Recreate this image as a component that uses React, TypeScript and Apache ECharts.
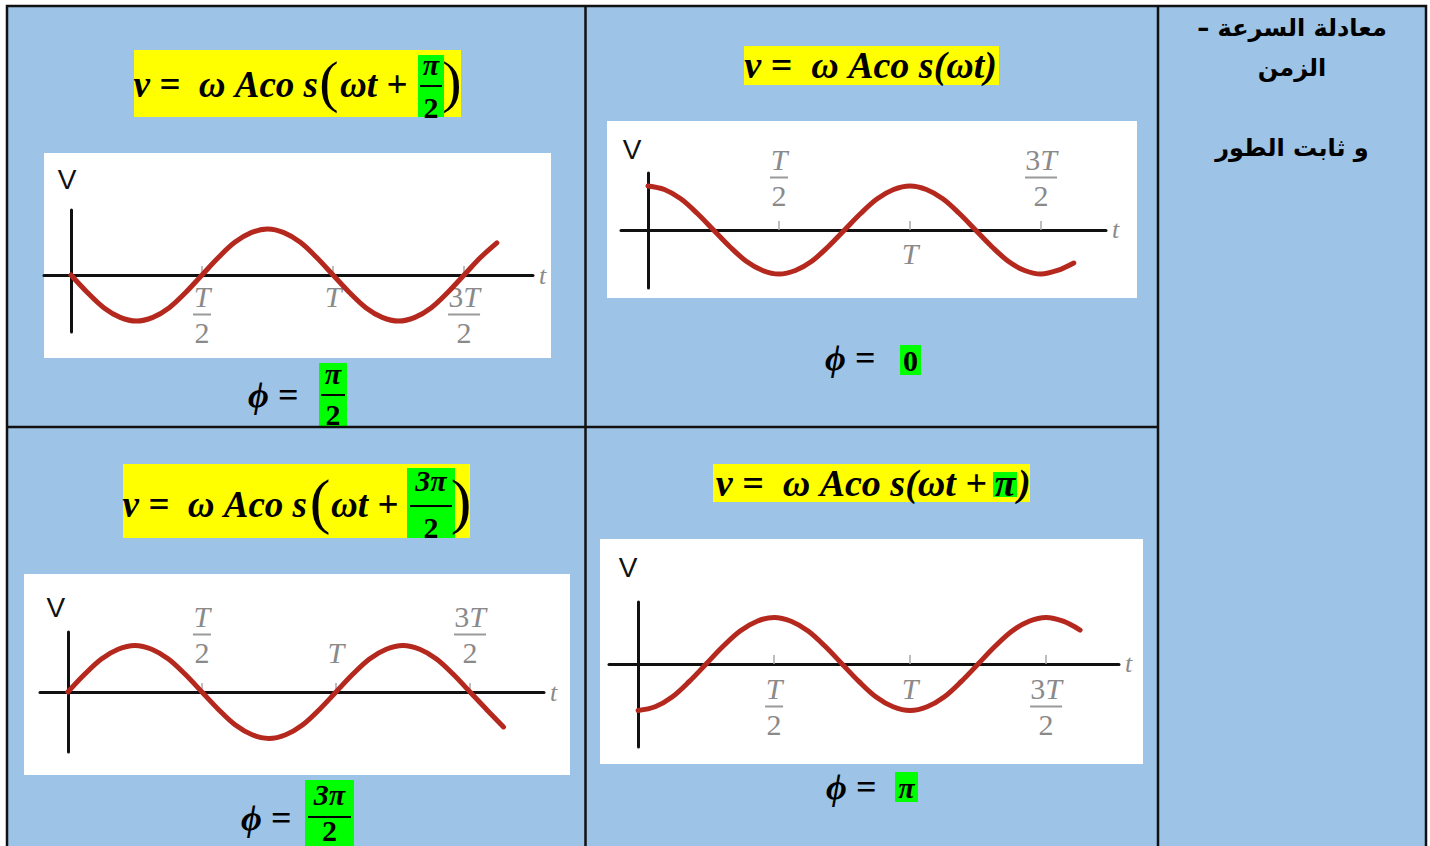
import React, { useEffect, useRef } from 'react';
import * as echarts from 'echarts';

// ---- data ----
// time in units of the period T, sampled every T/16
const tPoints = [
  0, 0.0625, 0.125, 0.1875, 0.25, 0.3125, 0.375, 0.4375, 0.5, 0.5625, 0.625, 0.6875, 0.75, 0.8125,
  0.875, 0.9375, 1, 1.0625, 1.125, 1.1875, 1.25, 1.3125, 1.375, 1.4375, 1.5, 1.5625, 1.625,
];
// velocity in units of ωA
const vPhiHalfPi = [0, -0.38, -0.71, -0.92, -1, -0.92, -0.71, -0.38, 0, 0.38, 0.71, 0.92, 1, 0.92, 0.71, 0.38, 0, -0.38, -0.71, -0.92, -1, -0.92, -0.71, -0.38, 0, 0.38, 0.7];
const vPhiZero = [1, 0.92, 0.71, 0.38, 0, -0.38, -0.71, -0.92, -1, -0.92, -0.71, -0.38, 0, 0.38, 0.71, 0.92, 1, 0.92, 0.71, 0.38, 0, -0.38, -0.71, -0.92, -1, -0.92, -0.75];
const vPhiThreeHalfPi = [0, 0.38, 0.71, 0.92, 1, 0.92, 0.71, 0.38, 0, -0.38, -0.71, -0.92, -1, -0.92, -0.71, -0.38, 0, 0.38, 0.71, 0.92, 1, 0.92, 0.71, 0.38, 0, -0.38, -0.75];
const vPhiPi = [-1, -0.92, -0.71, -0.38, 0, 0.38, 0.71, 0.92, 1, 0.92, 0.71, 0.38, 0, -0.38, -0.71, -0.92, -1, -0.92, -0.71, -0.38, 0, 0.38, 0.71, 0.92, 1, 0.92, 0.73];

const tickValues = [0.5, 1, 1.5];
const tickLabels = ['T/2', 'T', '3T/2'];
const axisNameV = 'V';
const axisNameT = 't';
const arabicLines = ['معادلة السرعة –\u200F', 'الزمن', 'و ثابت الطور'];

const SERIF = '"Liberation Serif", "DejaVu Serif", serif';
const SANS = '"Liberation Sans", Arial, sans-serif';
const BLUE = '#9DC3E6';
const YELLOW = '#FFFF00';
const GREEN = '#00FF00';
const RED = '#B5281E';
const GRAY = '#8a8a8a';
const INK = '#111111';
const EQ = 37;

const panels = [
  { values: vPhiHalfPi, grid: { left: 44, top: 210, width: 489, height: 122 }, x: [-0.103, 1.763], y: [-1.239, 1.413], below: [0.5, 1, 1.5], above: [] as number[], belowMargin: 8, aboveMargin: 22, vShift: 4, vGap: 17 },
  { values: vPhiZero, grid: { left: 621, top: 173, width: 485, height: 115 }, x: [-0.103, 1.748], y: [-1.318, 1.295], below: [1], above: [0.5, 1.5], belowMargin: 10, aboveMargin: 21, vShift: 16, vGap: 10 },
  { values: vPhiThreeHalfPi, grid: { left: 40, top: 632, width: 504, height: 120 }, x: [-0.104, 1.776], y: [-1.29, 1.29], below: [] as number[], above: [0.5, 1, 1.5], belowMargin: 10, aboveMargin: 26, vShift: 12, vGap: 11 },
  { values: vPhiPi, grid: { left: 609, top: 602, width: 510, height: 145 }, x: [-0.107, 1.768], y: [-1.785, 1.333], below: [0.5, 1, 1.5], above: [] as number[], belowMargin: 11, aboveMargin: 20, vShift: 10, vGap: 21 },
];

function tickFormatter(val: number) {
  const idx = tickValues.indexOf(Math.round(val * 100) / 100);
  const lab = tickLabels[idx] || '';
  const parts = lab.split('/');
  const three = parts[0].startsWith('3');
  const num = three ? '{d|3}{n|T}' : '{n|T}';
  if (parts.length === 1) return num;
  return num + '\n{' + (three ? 'b3' : 'b1') + '| }\n{d|' + parts[1] + '}';
}

const labelRich = {
  n: { fontFamily: SERIF, fontStyle: 'italic', fontSize: 30, color: GRAY, lineHeight: 27 },
  d: { fontFamily: SERIF, fontSize: 30, color: GRAY, lineHeight: 27 },
  b1: { width: 18, height: 2, backgroundColor: '#9a9a9a', fontSize: 2, lineHeight: 9 },
  b3: { width: 32, height: 2, backgroundColor: '#9a9a9a', fontSize: 2, lineHeight: 9 },
};

function txt(text: string, x: number, y: number, extra: any = {}) {
  return {
    type: 'text',
    z: 20,
    style: {
      text, x, y,
      fill: '#000',
      fontFamily: SERIF,
      fontSize: EQ,
      fontWeight: 'bold',
      fontStyle: 'italic',
      align: 'left',
      verticalAlign: 'middle',
      ...extra,
    },
  };
}
function rect(x: number, y: number, w: number, h: number, fill: string, z = 5) {
  return { type: 'rect', z, shape: { x, y, width: w, height: h }, style: { fill } };
}
function hline(x1: number, x2: number, y: number, w = 2, color = '#000', z = 21) {
  return { type: 'line', z, shape: { x1, y1: y, x2, y2: y }, style: { stroke: color, lineWidth: w } };
}
function vline(x: number, y1: number, y2: number, w = 2.5, color = INK, z = 30) {
  return { type: 'line', z, shape: { x1: x, y1, x2: x, y2 }, style: { stroke: color, lineWidth: w } };
}
const paren = { fontWeight: 'normal', fontStyle: 'normal', align: 'center' };
const frac = { align: 'center', fontSize: 30 };
const PHI = 36;

function buildOption() {
  const grids: any[] = [];
  const xAxes: any[] = [];
  const yAxes: any[] = [];
  const series: any[] = [];

  panels.forEach((p, i) => {
    const g = p.grid;
    grids.push({ ...g, outerBoundsMode: 'none', containLabel: false });
    // pixel row of v = 0; labels are laid out from the grid edges, so shift them onto the zero line
    const zeroY = g.top + (g.height * p.y[1]) / (p.y[1] - p.y[0]);
    const belowMargin = zeroY + p.belowMargin - (g.top + g.height);
    const aboveMargin = g.top - zeroY + p.aboveMargin;
    const common = { type: 'value', gridIndex: i, min: p.x[0], max: p.x[1], splitLine: { show: false }, z: 3 };
    xAxes.push({
      ...common,
      position: 'bottom',
      axisLine: { show: true, onZero: true, lineStyle: { color: INK, width: 3 } },
      axisTick: { show: true, inside: true, length: 9, customValues: tickValues, lineStyle: { color: '#a8a8a8', width: 1.5 } },
      axisLabel: { show: p.below.length > 0, customValues: p.below, margin: belowMargin, formatter: tickFormatter, rich: labelRich, verticalAlign: 'top' },
      name: axisNameT,
      nameLocation: 'end',
      nameGap: 6,
      nameTextStyle: { fontFamily: SERIF, fontStyle: 'italic', fontSize: 26, color: GRAY, verticalAlign: 'middle' },
    });
    xAxes.push({
      ...common,
      position: 'top',
      axisLine: { show: false, onZero: true },
      axisTick: { show: false },
      axisLabel: { show: p.above.length > 0, customValues: p.above, margin: aboveMargin, formatter: tickFormatter, rich: labelRich, verticalAlign: 'bottom' },
    });
    yAxes.push({
      type: 'value',
      gridIndex: i,
      min: p.y[0],
      max: p.y[1],
      z: 3,
      axisLine: { show: true, onZero: true, onZeroAxisIndex: 2 * i, lineStyle: { color: INK, width: 3 } },
      axisTick: { show: false },
      axisLabel: { show: false },
      splitLine: { show: false },
      name: axisNameV,
      nameLocation: 'end',
      nameGap: p.vGap,
      nameTextStyle: { fontFamily: SANS, fontSize: 28, color: INK, align: 'center', verticalAlign: 'bottom', padding: [0, 2 * p.vShift, 0, 0] },
    });
    series.push({
      type: 'line',
      xAxisIndex: 2 * i,
      yAxisIndex: i,
      data: tPoints.map((t, k) => [t, p.values[k]]),
      smooth: 0.35,
      showSymbol: false,
      z: 4,
      lineStyle: { color: RED, width: 5, cap: 'round' },
    });
  });

  const arab = { fontFamily: '"DejaVu Sans", sans-serif', fontStyle: 'normal', fontSize: 24, align: 'center' };

  const elements: any[] = [
    // table background
    rect(7, 6, 1419, 850, BLUE, 0),
    // plot white panels
    rect(44, 153, 507, 205, '#ffffff', 1),
    rect(607, 121, 530, 177, '#ffffff', 1),
    rect(24, 574, 546, 201, '#ffffff', 1),
    rect(600, 539, 543, 225, '#ffffff', 1),

    // equation 1 : phi = pi/2
    rect(134, 50, 327, 67, YELLOW),
    txt('v =  ω Aco s', 318, 84, { align: 'right' }),
    txt('(', 329, 81, { ...paren, fontSize: 58 }),
    txt('ωt +', 340, 84),
    rect(418, 55, 26, 62, GREEN, 6),
    txt('π', 431, 64, frac),
    hline(420, 442, 86),
    txt('2', 431, 107, { ...frac, fontStyle: 'normal' }),
    txt(')', 452, 81, { ...paren, fontSize: 58 }),

    // equation 2 : phi = 0
    rect(744, 46, 255, 39, YELLOW),
    txt('v =  ω Aco s(ωt)', 997, 65, { align: 'right', fontSize: 38 }),

    // equation 3 : phi = 3pi/2
    rect(123, 464, 347, 74, YELLOW),
    txt('v =  ω Aco s', 307, 504, { align: 'right' }),
    txt('(', 320, 501, { ...paren, fontSize: 62 }),
    txt('ωt +', 331, 504),
    rect(407, 468, 48, 70, GREEN, 6),
    txt('3π', 431, 480, frac),
    hline(410, 452, 506),
    txt('2', 431, 527, { ...frac, fontStyle: 'normal' }),
    txt(')', 461, 501, { ...paren, fontSize: 62 }),

    // equation 4 : phi = pi
    rect(713, 464, 317, 38, YELLOW),
    txt('v =  ω Aco s(ωt +', 987, 483, { align: 'right', fontSize: 38 }),
    rect(993, 472, 24, 25, GREEN, 6),
    txt('π', 1005, 483, { align: 'center', fontSize: 38 }),
    txt(')', 1018, 483, { fontSize: 38 }),

    // phase labels
    txt('ϕ =', 248, 395, { fontSize: PHI }),
    rect(319, 363, 28, 64, GREEN, 6),
    txt('π', 333, 373, frac),
    hline(321, 345, 395),
    txt('2', 333, 414, { ...frac, fontStyle: 'normal' }),

    txt('ϕ =', 825, 358, { fontSize: PHI }),
    rect(900, 345, 21, 30, GREEN, 6),
    txt('0', 910.5, 360, { ...frac, fontStyle: 'normal' }),

    txt('ϕ =', 241, 818, { fontSize: PHI }),
    rect(305, 780, 49, 66, GREEN, 6),
    txt('3π', 329.5, 794, frac),
    hline(308, 351, 817),
    txt('2', 329.5, 830, { ...frac, fontStyle: 'normal' }),

    txt('ϕ =', 826, 787, { fontSize: PHI }),
    rect(895, 772, 23, 30, GREEN, 6),
    txt('π', 906.5, 787, frac),

    // arabic heading
    txt(arabicLines[0], 1292, 28, arab),
    txt(arabicLines[1], 1292, 68, arab),
    txt(arabicLines[2], 1292, 148, arab),

    // table borders
    { type: 'rect', z: 30, shape: { x: 7, y: 6, width: 1419, height: 900 }, style: { fill: 'none', stroke: INK, lineWidth: 2.5 } },
    vline(585.5, 6, 846),
    vline(1158, 6, 846),
    hline(7, 1158, 427, 2.5, INK, 30),
  ];

  return {
    animation: false,
    backgroundColor: '#ffffff',
    grid: grids,
    xAxis: xAxes,
    yAxis: yAxes,
    series,
    graphic: { elements },
  };
}

export default function App() {
  const ref = useRef<HTMLDivElement>(null);
  useEffect(() => {
    if (!ref.current) return;
    const chart = echarts.init(ref.current, null, { renderer: 'svg', width: 1430, height: 846 });
    chart.setOption(buildOption() as any);
    return () => chart.dispose();
  }, []);
  return (
    <div
      ref={ref}
      style={{ position: 'absolute', left: 0, top: 0, width: 1430, height: 846, background: '#ffffff' }}
    />
  );
}
